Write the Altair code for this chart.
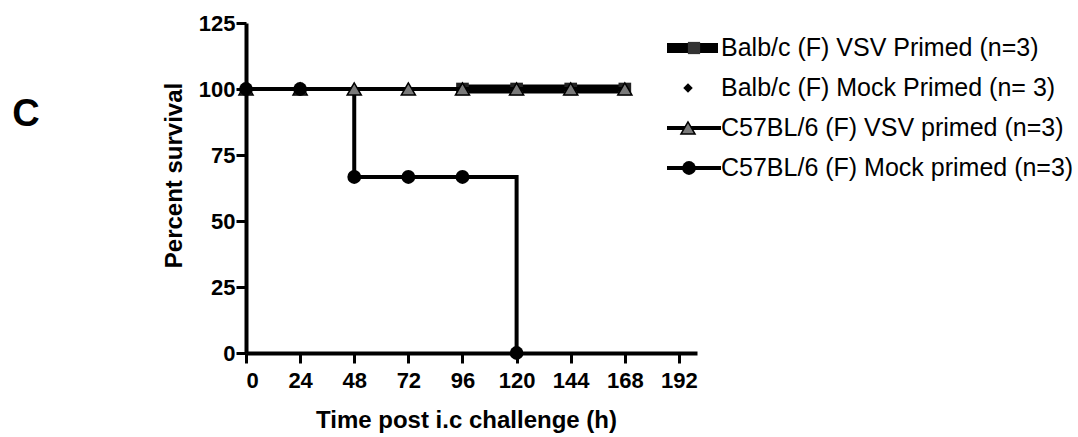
import altair as alt
import pandas as pd

# ---- data ----
times_all = [0, 24, 48, 72, 96, 120, 144, 168]

balb_vsv_t = [96, 120, 144, 168]
balb_vsv_s = [100, 100, 100, 100]

balb_mock_t = times_all
balb_mock_s = [100, 100, 100, 100, 100, 100, 100, 100]

c57_vsv_t = times_all
c57_vsv_s = [100, 100, 100, 100, 100, 100, 100, 100]

c57_mock_t = [0, 24, 48, 72, 96, 120]
c57_mock_s = [100, 100, 66.67, 66.67, 66.67, 0]

legend_labels = [
    "Balb/c (F) VSV Primed (n=3)",
    "Balb/c (F) Mock Primed  (n= 3)",
    "C57BL/6 (F) VSV primed (n=3)",
    "C57BL/6 (F) Mock primed (n=3)",
]

x_ticks = [0, 24, 48, 72, 96, 120, 144, 168, 192]
y_ticks = [0, 25, 50, 75, 100, 125]

FONT = "Liberation Sans"
W, H = 451, 330

def df(t, s):
    return pd.DataFrame({"t": t, "s": s})

xs = alt.Scale(domain=[0, 200], nice=False, zero=False)
ys = alt.Scale(domain=[0, 125], nice=False)

x_enc = alt.X(
    "t:Q",
    scale=xs,
    axis=alt.Axis(
        values=x_ticks,
        title="Time post i.c challenge (h)",
        titleFontSize=24,
        titlePadding=17,
        titleX=220,
        labelPadding=7,
    ),
)
y_enc = alt.Y(
    "s:Q",
    scale=ys,
    axis=alt.Axis(
        values=y_ticks,
        title="Percent survival",
        titleFontSize=24,
        titlePadding=12,
        titleY=152,
        labelPadding=1,
    ),
)
x_plain = alt.X("t:Q", scale=xs)
y_plain = alt.Y("s:Q", scale=ys)

# Balb/c VSV primed: thick line + squares
l1 = alt.Chart(df(balb_vsv_t, balb_vsv_s)).mark_line(
    color="black", strokeWidth=9
).encode(x=x_enc, y=y_enc)
p1 = alt.Chart(df(balb_vsv_t, balb_vsv_s)).mark_point(
    shape="square", filled=True, color="#222", size=160, opacity=1
).encode(x=x_plain, y=y_plain)

# Balb/c mock primed: diamonds only
p2 = alt.Chart(df(balb_mock_t, balb_mock_s)).mark_point(
    shape="diamond", filled=True, color="black", size=90, opacity=1
).encode(x=x_plain, y=y_plain)

# C57BL/6 VSV primed: line + triangles
l3 = alt.Chart(df(c57_vsv_t, c57_vsv_s)).mark_line(
    color="black", strokeWidth=4
).encode(x=x_plain, y=y_plain)
p3 = alt.Chart(df(c57_vsv_t, c57_vsv_s)).mark_point(
    shape="triangle-up", filled=True, fill="#7a7a7a", stroke="black",
    strokeWidth=1.5, size=200, opacity=1
).encode(x=x_plain, y=y_plain)

# C57BL/6 mock primed: step line + circles
l4 = alt.Chart(df(c57_mock_t, c57_mock_s)).mark_line(
    color="black", strokeWidth=4, interpolate="step-after"
).encode(x=x_plain, y=y_plain)
p4 = alt.Chart(df(c57_mock_t, c57_mock_s)).mark_point(
    shape="circle", filled=True, color="black", size=190, opacity=1
).encode(x=x_plain, y=y_plain)

data_layers = alt.layer(l1, p1, p2, l3, l4, p3, p4)

# ---- legend (drawn as marks) ----
leg_df = pd.DataFrame({"label": legend_labels})
ly = alt.Scale(type="point", domain=legend_labels, range=[25, 145], padding=0)

def leg_y():
    return alt.Y("label:N", scale=ly, axis=None)

def row(i):
    return leg_df.iloc[[i]]

lg1_line = alt.Chart(row(0)).mark_rule(color="black", strokeWidth=10).encode(
    x=alt.value(421), x2=alt.value(472), y=leg_y()
)
lg1_pt = alt.Chart(row(0)).mark_point(
    shape="square", filled=True, color="#333", size=150, opacity=1
).encode(x=alt.value(448), y=leg_y())
lg2_pt = alt.Chart(row(1)).mark_point(
    shape="diamond", filled=True, color="black", size=90, opacity=1
).encode(x=alt.value(442), y=leg_y())
lg3_line = alt.Chart(row(2)).mark_rule(color="black", strokeWidth=4).encode(
    x=alt.value(421), x2=alt.value(475), y=leg_y()
)
lg3_pt = alt.Chart(row(2)).mark_point(
    shape="triangle-up", filled=True, fill="#7a7a7a", stroke="black",
    strokeWidth=1.5, size=200, opacity=1
).encode(x=alt.value(442), y=leg_y())
lg4_line = alt.Chart(row(3)).mark_rule(color="black", strokeWidth=4).encode(
    x=alt.value(421), x2=alt.value(475), y=leg_y()
)
lg4_pt = alt.Chart(row(3)).mark_point(
    shape="circle", filled=True, color="black", size=190, opacity=1
).encode(x=alt.value(443), y=leg_y())
lg_text = alt.Chart(leg_df).mark_text(
    align="left", baseline="middle", font=FONT, fontSize=25, color="black"
).encode(x=alt.value(475), y=leg_y(), text="label:N")

legend_layers = alt.layer(
    lg1_line, lg1_pt, lg2_pt, lg3_line, lg3_pt, lg4_line, lg4_pt, lg_text
)

panel = alt.Chart(pd.DataFrame({"c": ["C"]})).mark_text(
    align="center", baseline="middle", font=FONT, fontSize=38,
    fontWeight="bold", color="black"
).encode(x=alt.value(-220), y=alt.value(92), text="c:N")

chart = (
    alt.layer(data_layers, legend_layers, panel)
    .resolve_scale(y="independent")
    .properties(
        width=W,
        height=H,
        autosize=alt.AutoSizeParams(type="none"),
        padding={"left": 246, "top": 23, "right": 381, "bottom": 84},
        background="white",
    )
    .configure_view(stroke=None)
    .configure_axis(
        grid=False,
        domainColor="black",
        domainWidth=4,
        tickColor="black",
        tickWidth=3,
        tickSize=10,
        labelFont=FONT,
        labelFontSize=22,
        labelFontWeight="bold",
        labelColor="black",
        titleFont=FONT,
        titleFontWeight="bold",
        titleColor="black",
    )
)

chart.save("out.html", embed_options={"renderer": "svg", "actions": False})
